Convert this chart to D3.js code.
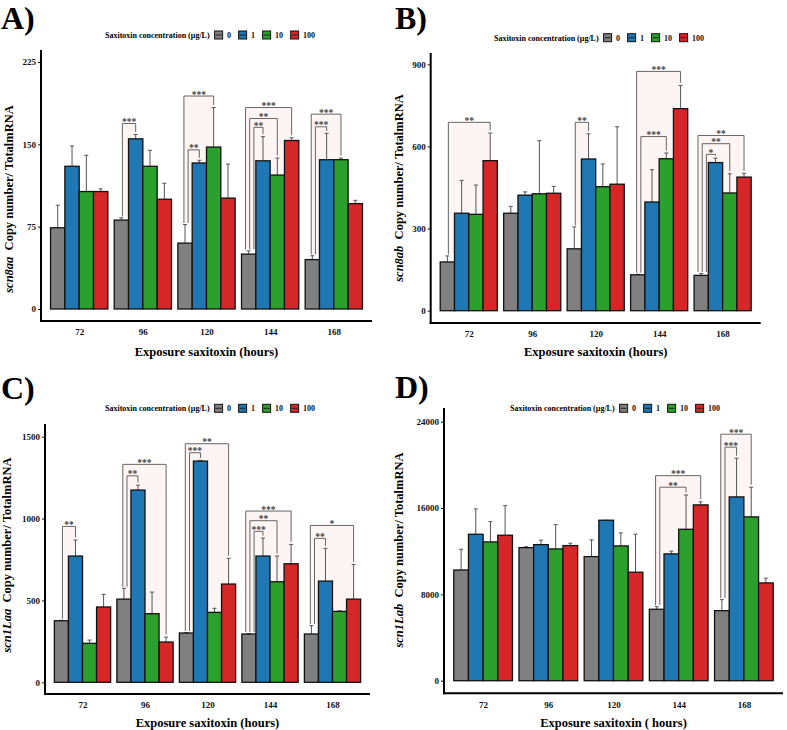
<!DOCTYPE html>
<html><head><meta charset="utf-8">
<script src="https://cdn.jsdelivr.net/npm/d3@7"></script>
<style>
body{margin:0;background:#fff;}
svg{display:block;}
text{font-family:"Liberation Serif","Times New Roman",serif;font-weight:bold;}
</style></head>
<body>
<svg id="chart" width="787" height="730"></svg>
<script>
// ---------- DATA ----------
const hours = ["72", "96", "120", "144", "168"];
const concentrations = ["0", "1", "10", "100"];

// scn8aa (panel A) means and SD per concentration (0,1,10,100) across hours
const scn8aaMean = [
  [74, 81, 60, 50, 45],
  [130, 155, 133, 135, 136],
  [107, 130, 147.5, 122, 136],
  [107, 100, 101, 153.5, 96]
];
const scn8aaErr = [
  [20.5, 2, 17, 3, 3.5],
  [18.5, 4, 2.5, 22, 24],
  [33, 14.5, 36, 15.5, 1.5],
  [2.5, 14.5, 31, 2.5, 3]
];
// [hour index, compared concentration index, label, bracket height]
const scn8aaSig = [
  [1, 1, "***", 169], [2, 1, "**", 145], [2, 2, "***", 194],
  [3, 1, "**", 165.5], [3, 2, "**", 173.5], [3, 3, "***", 183.5],
  [4, 1, "***", 166], [4, 2, "***", 177.5]
];
const scn8aaTicks = [0, 75, 150, 225];

// scn8ab (panel B)
const scn8abMean = [
  [178, 356, 226, 131, 129],
  [356, 422, 554, 397, 541],
  [352, 427, 453, 555, 430],
  [548, 429, 462, 738, 488]
];
const scn8abErr = [
  [22, 25, 80, 2, 7],
  [120, 12, 92, 118, 16],
  [107, 194, 83, 21, 70],
  [101, 25, 210, 85, 14]
];
const scn8abSig = [
  [0, 3, "**", 688], [2, 1, "**", 688],
  [3, 2, "***", 636], [3, 3, "***", 874],
  [4, 1, "*", 571], [4, 2, "**", 610], [4, 3, "**", 640]
];
const scn8abTicks = [0, 300, 600, 900];

// scn1Laa (panel C)
const scn1LaaMean = [
  [376, 508, 301, 295, 295],
  [771, 1174, 1351, 771, 618],
  [238, 419, 427, 614, 433],
  [460, 246, 600, 724, 508]
];
const scn1LaaErr = [
  [3, 66, 3, 3, 51],
  [98, 30, 4, 110, 200],
  [20, 132, 25, 157, 4],
  [77, 30, 157, 118, 212]
];
const scn1LaaSig = [
  [0, 1, "**", 952],
  [1, 1, "**", 1261], [1, 3, "***", 1331],
  [2, 1, "***", 1402], [2, 3, "**", 1457],
  [3, 1, "***", 922], [3, 2, "**", 987], [3, 3, "***", 1046],
  [4, 1, "**", 879], [4, 3, "*", 958]
];
const scn1LaaTicks = [0, 500, 1000, 1500];

// scn1Lab (panel D)
const scn1LabMean = [
  [10260, 12330, 11500, 6620, 6490],
  [13570, 12610, 14870, 11750, 17030],
  [12860, 12210, 12490, 14030, 15180],
  [13480, 12520, 10050, 16290, 9060]
];
const scn1LabErr = [
  [1920, 90, 1550, 240, 1020],
  [2350, 410, 0, 250, 3590],
  [1880, 2250, 1200, 3180, 2750],
  [2740, 220, 3520, 280, 440]
];
const scn1LabSig = [
  [3, 2, "**", 17930], [3, 3, "***", 19000],
  [4, 1, "***", 21640], [4, 2, "***", 22840]
];
const scn1LabTicks = [0, 8000, 16000, 24000];

// ---------- STYLE / LAYOUT ----------
const palette = ["#808080", "#1f77b4", "#2ca02c", "#d62728"];
const svg = d3.select("#chart");

const panels = [
  {tag: "A)", tagX: 1, tagY: 29, gene: "scn8aa", mean: scn8aaMean, err: scn8aaErr, sig: scn8aaSig, ticks: scn8aaTicks,
   x0: 41, x1: 372, y0: 309, yTop: 62, yMax: 225, axTop: 50, axBot: 321,
   legX: 105, legY: 35, ylabX: 13, ylabY: 199, xlabY: 356, xlab: "Exposure saxitoxin (hours)"},
  {tag: "B)", tagX: 395, tagY: 29, gene: "scn8ab", mean: scn8abMean, err: scn8abErr, sig: scn8abSig, ticks: scn8abTicks,
   x0: 430.7, x1: 760.7, y0: 310.7, yTop: 64.3, yMax: 900, axTop: 53, axBot: 323,
   legX: 494, legY: 37.7, ylabX: 403, ylabY: 188, xlabY: 356, xlab: "Exposure saxitoxin (hours)"},
  {tag: "C)", tagX: 1, tagY: 399, gene: "scn1Laa", mean: scn1LaaMean, err: scn1LaaErr, sig: scn1LaaSig, ticks: scn1LaaTicks,
   x0: 45, x1: 370, y0: 682.3, yTop: 436.7, yMax: 1500, axTop: 424, axBot: 694,
   legX: 105, legY: 408.3, ylabX: 11, ylabY: 555, xlabY: 727, xlab: "Exposure saxitoxin (hours)"},
  {tag: "D)", tagX: 395, tagY: 398, gene: "scn1Lab", mean: scn1LabMean, err: scn1LabErr, sig: scn1LabSig, ticks: scn1LabTicks,
   x0: 444, x1: 783, y0: 680.7, yTop: 421.7, yMax: 24000, axTop: 408, axBot: 693.3,
   legX: 510, legY: 408.3, ylabX: 403, ylabY: 550, xlabY: 727, xlab: "Exposure saxitoxin ( hours)"}
];

function drawPanel(p) {
  const g = svg.append("g");
  const x = d3.scalePoint().domain(hours).range([p.x0, p.x1]).padding(0.6);
  const step = x.step();
  const bw = step * 0.9 / concentrations.length;
  const y = d3.scaleLinear().domain([0, p.yMax]).range([p.y0, p.yTop]);
  const barLeft = (h, c) => x(hours[h]) - bw * concentrations.length / 2 + c * bw;
  const barCenter = (h, c) => barLeft(h, c) + bw / 2;

  const bars = [];
  concentrations.forEach((c, ci) => hours.forEach((h, hi) => {
    bars.push({hi, ci, v: p.mean[ci][hi], e: p.err[ci][hi]});
  }));

  const groups = d3.group(p.sig, d => d[0]);
  const brackets = [];
  groups.forEach((arr, hi) => {
    const sorted = arr.slice().sort((a, b) => a[3] - b[3]);
    const k = sorted.length;
    sorted.forEach((s, i) => {
      const ci = s[1];
      const lx = barCenter(hi, 0) + 1 + ((k - 1) / 2 - i) * 4.2;
      const rx = barCenter(hi, ci);
      const yT = y(s[3]);
      const lb = y(p.mean[0][hi] + p.err[0][hi]) - 1.5;
      const rb = y(p.mean[ci][hi] + p.err[ci][hi]) - 2.5;
      brackets.push({lx, rx, yT, lb, rb, label: s[2]});
    });
  });

  g.append("g").selectAll("rect").data(brackets).join("rect")
    .attr("x", d => d.lx).attr("y", d => d.yT)
    .attr("width", d => d.rx - d.lx).attr("height", d => Math.max(d.lb, d.rb) - d.yT)
    .attr("fill", "#fdf4f4");

  const eg = g.append("g").attr("stroke", "#555").attr("stroke-width", 1);
  eg.selectAll("line.v").data(bars.filter(d => d.e > 0)).join("line").attr("class", "v")
    .attr("x1", d => barCenter(d.hi, d.ci)).attr("x2", d => barCenter(d.hi, d.ci))
    .attr("y1", d => y(d.v)).attr("y2", d => y(d.v + d.e));
  eg.selectAll("line.c").data(bars).join("line").attr("class", "c")
    .attr("x1", d => barCenter(d.hi, d.ci) - 2).attr("x2", d => barCenter(d.hi, d.ci) + 2)
    .attr("y1", d => y(d.v + d.e)).attr("y2", d => y(d.v + d.e));

  g.append("g").selectAll("rect").data(bars).join("rect")
    .attr("x", d => barLeft(d.hi, d.ci)).attr("width", bw)
    .attr("y", d => y(d.v)).attr("height", d => y(0) - y(d.v))
    .attr("fill", d => palette[d.ci]).attr("stroke", "#111").attr("stroke-width", 1.3);

  g.append("g").selectAll("path").data(brackets).join("path")
    .attr("d", d => `M${d.lx},${d.lb}V${d.yT}H${d.rx}V${d.rb}`)
    .attr("fill", "none").attr("stroke", "#666").attr("stroke-width", 1);
  g.append("g").selectAll("text").data(brackets).join("text")
    .attr("x", d => (d.lx + d.rx) / 2).attr("y", d => d.yT + 1.5)
    .attr("text-anchor", "middle").attr("font-size", 9.5).attr("fill", "#444")
    .text(d => d.label);

  const ya = d3.axisLeft(y).tickValues(p.ticks).tickFormat(d3.format("d")).tickSize(3).tickPadding(2);
  const yg = g.append("g").attr("transform", `translate(${p.x0},0)`).call(ya);
  yg.select(".domain").remove();
  yg.selectAll("text").attr("font-size", 9).attr("font-family", "Liberation Serif").attr("fill", "#111");
  yg.selectAll("line").attr("stroke", "#111");
  g.append("line").attr("x1", p.x0).attr("x2", p.x0).attr("y1", p.axTop).attr("y2", p.axBot + 1)
    .attr("stroke", "#000").attr("stroke-width", 2);

  const xa = d3.axisBottom(x).tickSize(0).tickPadding(8);
  const xg = g.append("g").attr("transform", `translate(0,${p.axBot})`).call(xa);
  xg.select(".domain").remove();
  xg.selectAll("text").attr("font-size", 9).attr("font-family", "Liberation Serif").attr("fill", "#111");
  g.append("line").attr("x1", p.x0 - 1).attr("x2", p.x1).attr("y1", p.axBot).attr("y2", p.axBot)
    .attr("stroke", "#000").attr("stroke-width", 2);

  g.append("text").attr("x", (p.x0 + p.x1) / 2).attr("y", p.xlabY).attr("text-anchor", "middle")
    .attr("font-size", 12.5).text(p.xlab);
  const yl = g.append("text").attr("transform", `translate(${p.ylabX},${p.ylabY}) rotate(-90)`)
    .attr("text-anchor", "middle").attr("font-size", 12.5);
  yl.append("tspan").attr("font-style", "italic").text(p.gene);
  yl.append("tspan").text("\u00a0 Copy number/ TotalmRNA");

  g.append("text").attr("x", p.tagX).attr("y", p.tagY).attr("font-size", 32).text(p.tag);

  const lg = g.append("g").attr("transform", `translate(${p.legX},${p.legY})`);
  const t = lg.append("text").attr("x", 0).attr("y", 2.8).attr("font-size", 8)
    .text("Saxitoxin concentration (\u00b5g/L)");
  let cx = t.node().getComputedTextLength() + 5;
  concentrations.forEach((c, i) => {
    lg.append("rect").attr("x", cx).attr("y", -4).attr("width", 8).attr("height", 8)
      .attr("fill", palette[i]).attr("stroke", "#111").attr("stroke-width", 1);
    lg.append("line").attr("x1", cx + 1).attr("x2", cx + 7).attr("y1", 0).attr("y2", 0)
      .attr("stroke", "#222").attr("stroke-width", 1);
    cx += 12.5;
    const lt = lg.append("text").attr("x", cx).attr("y", 2.8).attr("font-size", 8).attr("fill", "#111").text(c);
    cx += lt.node().getComputedTextLength() + 7.5;
  });
}

panels.forEach(drawPanel);
</script>
</body></html>
